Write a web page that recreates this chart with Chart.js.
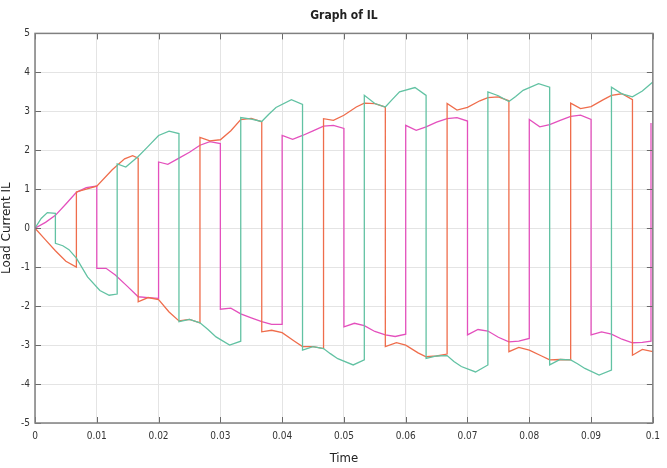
<!DOCTYPE html>
<html>
<head>
<meta charset="utf-8">
<title>Graph of IL</title>
<script src="https://cdn.jsdelivr.net/npm/chart.js@4.4.1/dist/chart.umd.min.js"></script>
<style>
    html, body { margin: 0; padding: 0; background: #fff; }
    #wrap { width: 667px; height: 468px; }
</style>
</head>
<body>
<div id="wrap"><canvas id="ilChart" width="667" height="468"></canvas></div>
<script>
/* Courants de charge IL (3 phases) */

// Phase verte
const tealTime = [0, 0.001, 0.002, 0.0033, 0.0033, 0.0045, 0.0055, 0.0067, 0.0085, 0.0105, 0.012, 0.0133,
    0.0133, 0.0147, 0.0167, 0.018, 0.02, 0.0217, 0.0233,
    0.0233, 0.025, 0.0267, 0.028, 0.0293, 0.0315, 0.0333,
    0.0333, 0.035, 0.0367, 0.0378, 0.039, 0.0415, 0.0433,
    0.0433, 0.045, 0.0467, 0.0478, 0.049, 0.0515, 0.0533,
    0.0533, 0.055, 0.0567, 0.0578, 0.059, 0.0615, 0.0633,
    0.0633, 0.065, 0.0667, 0.0678, 0.069, 0.0713, 0.0733,
    0.0733, 0.075, 0.0767, 0.0778, 0.079, 0.0815, 0.0833,
    0.0833, 0.085, 0.0867, 0.0878, 0.089, 0.0913, 0.0933,
    0.0933, 0.095, 0.0967, 0.0983, 0.1];
const tealIL = [0, 0.25, 0.4, 0.38, -0.39, -0.45, -0.55, -0.77, -1.25, -1.6, -1.72, -1.69,
    1.65, 1.57, 1.84, 2.05, 2.38, 2.49, 2.43,
    -2.4, -2.34, -2.43, -2.6, -2.79, -3.0, -2.9,
    2.84, 2.8, 2.74, 2.92, 3.1, 3.3, 3.18,
    -3.13, -3.04, -3.09, -3.22, -3.35, -3.51, -3.38,
    3.41, 3.2, 3.11, 3.3, 3.5, 3.61, 3.41,
    -3.34, -3.28, -3.27, -3.42, -3.55, -3.69, -3.51,
    3.5, 3.4, 3.25, 3.38, 3.54, 3.71, 3.62,
    -3.51, -3.37, -3.38, -3.48, -3.6, -3.77, -3.64,
    3.62, 3.45, 3.37, 3.52, 3.75];

// Phase orange
const orangeTime = [0, 0.0017, 0.0033, 0.005, 0.0067,
    0.0067, 0.0083, 0.01, 0.0125, 0.0145, 0.0158, 0.0167,
    0.0167, 0.0183, 0.02, 0.0217, 0.0233, 0.025, 0.0267,
    0.0267, 0.0283, 0.03, 0.0317, 0.0333, 0.035, 0.0367,
    0.0367, 0.0383, 0.04, 0.042, 0.0433, 0.045, 0.0467,
    0.0467, 0.0483, 0.05, 0.052, 0.0533, 0.055, 0.0567,
    0.0567, 0.0585, 0.06, 0.062, 0.0633, 0.065, 0.0667,
    0.0667, 0.0683, 0.07, 0.072, 0.0733, 0.075, 0.0767,
    0.0767, 0.0783, 0.08, 0.082, 0.0833, 0.085, 0.0867,
    0.0867, 0.0883, 0.09, 0.092, 0.0933, 0.095, 0.0967,
    0.0967, 0.0983, 0.1];
const orangeIL = [0, -0.3, -0.58, -0.85, -1.0,
    0.93, 1.0, 1.08, 1.5, 1.78, 1.86, 1.8,
    -1.89, -1.78, -1.83, -2.15, -2.38, -2.34, -2.43,
    2.33, 2.24, 2.27, 2.5, 2.79, 2.82, 2.73,
    -2.66, -2.62, -2.68, -2.9, -3.04, -3.04, -3.09,
    2.81, 2.77, 2.9, 3.11, 3.21, 3.2, 3.11,
    -3.04, -2.94, -3.0, -3.2, -3.3, -3.28, -3.23,
    3.2, 3.03, 3.1, 3.27, 3.35, 3.37, 3.27,
    -3.17, -3.06, -3.13, -3.28, -3.38, -3.37, -3.38,
    3.21, 3.07, 3.12, 3.3, 3.41, 3.45, 3.3,
    -3.26, -3.11, -3.17];

// Phase magenta
const magentaTime = [0, 0.0017, 0.0033, 0.005, 0.0067, 0.0083, 0.01,
    0.01, 0.0115, 0.013, 0.015, 0.0167, 0.0183, 0.02,
    0.02, 0.0215, 0.0233, 0.025, 0.0267, 0.0283, 0.03,
    0.03, 0.0317, 0.0333, 0.035, 0.0367, 0.0383, 0.04,
    0.04, 0.0417, 0.0433, 0.045, 0.0467, 0.0483, 0.05,
    0.05, 0.0517, 0.0533, 0.055, 0.0567, 0.0583, 0.06,
    0.06, 0.0617, 0.0633, 0.065, 0.0667, 0.0683, 0.07,
    0.07, 0.0717, 0.0733, 0.075, 0.0767, 0.0783, 0.08,
    0.08, 0.0817, 0.0833, 0.085, 0.0867, 0.0883, 0.09,
    0.09, 0.0917, 0.0933, 0.095, 0.0967, 0.0983, 0.0997,
    0.0997];
const magentaIL = [0, 0.15, 0.33, 0.62, 0.92, 1.04, 1.08,
    -1.03, -1.03, -1.2, -1.5, -1.76, -1.78, -1.8,
    1.7, 1.64, 1.8, 1.95, 2.13, 2.22, 2.17,
    -2.08, -2.05, -2.2, -2.3, -2.4, -2.47, -2.47,
    2.38, 2.28, 2.38, 2.5, 2.62, 2.64, 2.56,
    -2.53, -2.44, -2.5, -2.65, -2.74, -2.78, -2.72,
    2.64, 2.51, 2.6, 2.72, 2.81, 2.84, 2.75,
    -2.74, -2.6, -2.64, -2.8, -2.92, -2.9, -2.83,
    2.79, 2.6, 2.66, 2.77, 2.87, 2.9, 2.79,
    -2.74, -2.66, -2.72, -2.85, -2.94, -2.93, -2.9,
    2.7];

// Graduations des axes
const xTickLabels = ["0", "0.01", "0.02", "0.03", "0.04", "0.05", "0.06", "0.07", "0.08", "0.09", "0.1"];
const yTickLabels = ["-5", "-4", "-3", "-2", "-1", "0", "1", "2", "3", "4", "5"];

const narrowFont = "'Liberation Sans Narrow', 'DejaVu Sans Condensed', 'Liberation Sans', sans-serif";

function toPoints(times, values) {
    return times.map((t, i) => ({ x: t, y: values[i] }));
}

// Cadre + petites graduations vers l'intérieur
const framePlugin = {
    id: "frame",
    afterDatasetsDraw(chart) {
        const { ctx, chartArea: a, scales } = chart;
        ctx.save();
        ctx.strokeStyle = "#6a6a6a";
        ctx.lineWidth = 1;
        ctx.beginPath();
        scales.x.ticks.forEach(tk => {
            const px = Math.round(scales.x.getPixelForValue(tk.value)) + 0.5;
            ctx.moveTo(px, a.top); ctx.lineTo(px, a.top + 6);
            ctx.moveTo(px, a.bottom); ctx.lineTo(px, a.bottom - 6);
        });
        scales.y.ticks.forEach(tk => {
            const py = Math.round(scales.y.getPixelForValue(tk.value)) + 0.5;
            ctx.moveTo(a.left, py); ctx.lineTo(a.left + 6, py);
            ctx.moveTo(a.right, py); ctx.lineTo(a.right - 6, py);
        });
        ctx.stroke();
        ctx.strokeStyle = "#808080";
        ctx.lineWidth = 1.5;
        ctx.strokeRect(a.left, a.top, a.right - a.left, a.bottom - a.top);
        ctx.restore();
    }
};

document.addEventListener("DOMContentLoaded", () => {
    const ctx = document.getElementById("ilChart");

    const lineStyle = {
        borderWidth: 1.3,
        pointRadius: 0,
        fill: false,
        tension: 0
    };

    new Chart(ctx, {
        type: "line",
        data: {
            datasets: [
                { label: "IL a", data: toPoints(tealTime, tealIL), borderColor: "#62c2a3", ...lineStyle },
                { label: "IL b", data: toPoints(orangeTime, orangeIL), borderColor: "#ef6d4c", ...lineStyle },
                { label: "IL c", data: toPoints(magentaTime, magentaIL), borderColor: "#e450bd", ...lineStyle }
            ]
        },
        options: {
            responsive: false,
            animation: false,
            layout: { padding: { left: 0, right: 9, top: 0, bottom: 0 } },
            plugins: {
                legend: { display: false },
                tooltip: { enabled: false },
                title: {
                    display: true,
                    text: "Graph of IL",
                    fullSize: false,
                    color: "#222",
                    font: { family: narrowFont, size: 12, weight: "bold" },
                    padding: { top: 9, bottom: 10 }
                }
            },
            scales: {
                x: {
                    type: "linear",
                    min: 0,
                    max: 0.1,
                    ticks: {
                        stepSize: 0.01,
                        autoSkip: false,
                        maxRotation: 0,
                        padding: 7,
                        color: "#333",
                        font: { family: narrowFont, size: 10 },
                        callback: (v, i) => xTickLabels[i]
                    },
                    grid: { color: "#e4e4e4", drawTicks: false },
                    border: { display: false },
                    title: {
                        display: true,
                        text: "Time",
                        color: "#222",
                        font: { family: narrowFont, size: 13 },
                        padding: { top: 0, bottom: 2 }
                    },
                    afterFit: s => { s.height = 45; }
                },
                y: {
                    type: "linear",
                    min: -5,
                    max: 5,
                    ticks: {
                        stepSize: 1,
                        autoSkip: false,
                        padding: 5,
                        color: "#333",
                        font: { family: narrowFont, size: 10 },
                        callback: (v, i) => yTickLabels[i]
                    },
                    grid: { color: "#e4e4e4", drawTicks: false },
                    border: { display: false },
                    title: {
                        display: true,
                        text: "Load Current IL",
                        color: "#222",
                        font: { family: "'DejaVu Sans', sans-serif", size: 12 },
                        padding: { top: 0, bottom: 0 }
                    },
                    afterFit: s => { s.width = 35; }
                }
            }
        },
        plugins: [framePlugin]
    });
});
</script>
</body>
</html>
